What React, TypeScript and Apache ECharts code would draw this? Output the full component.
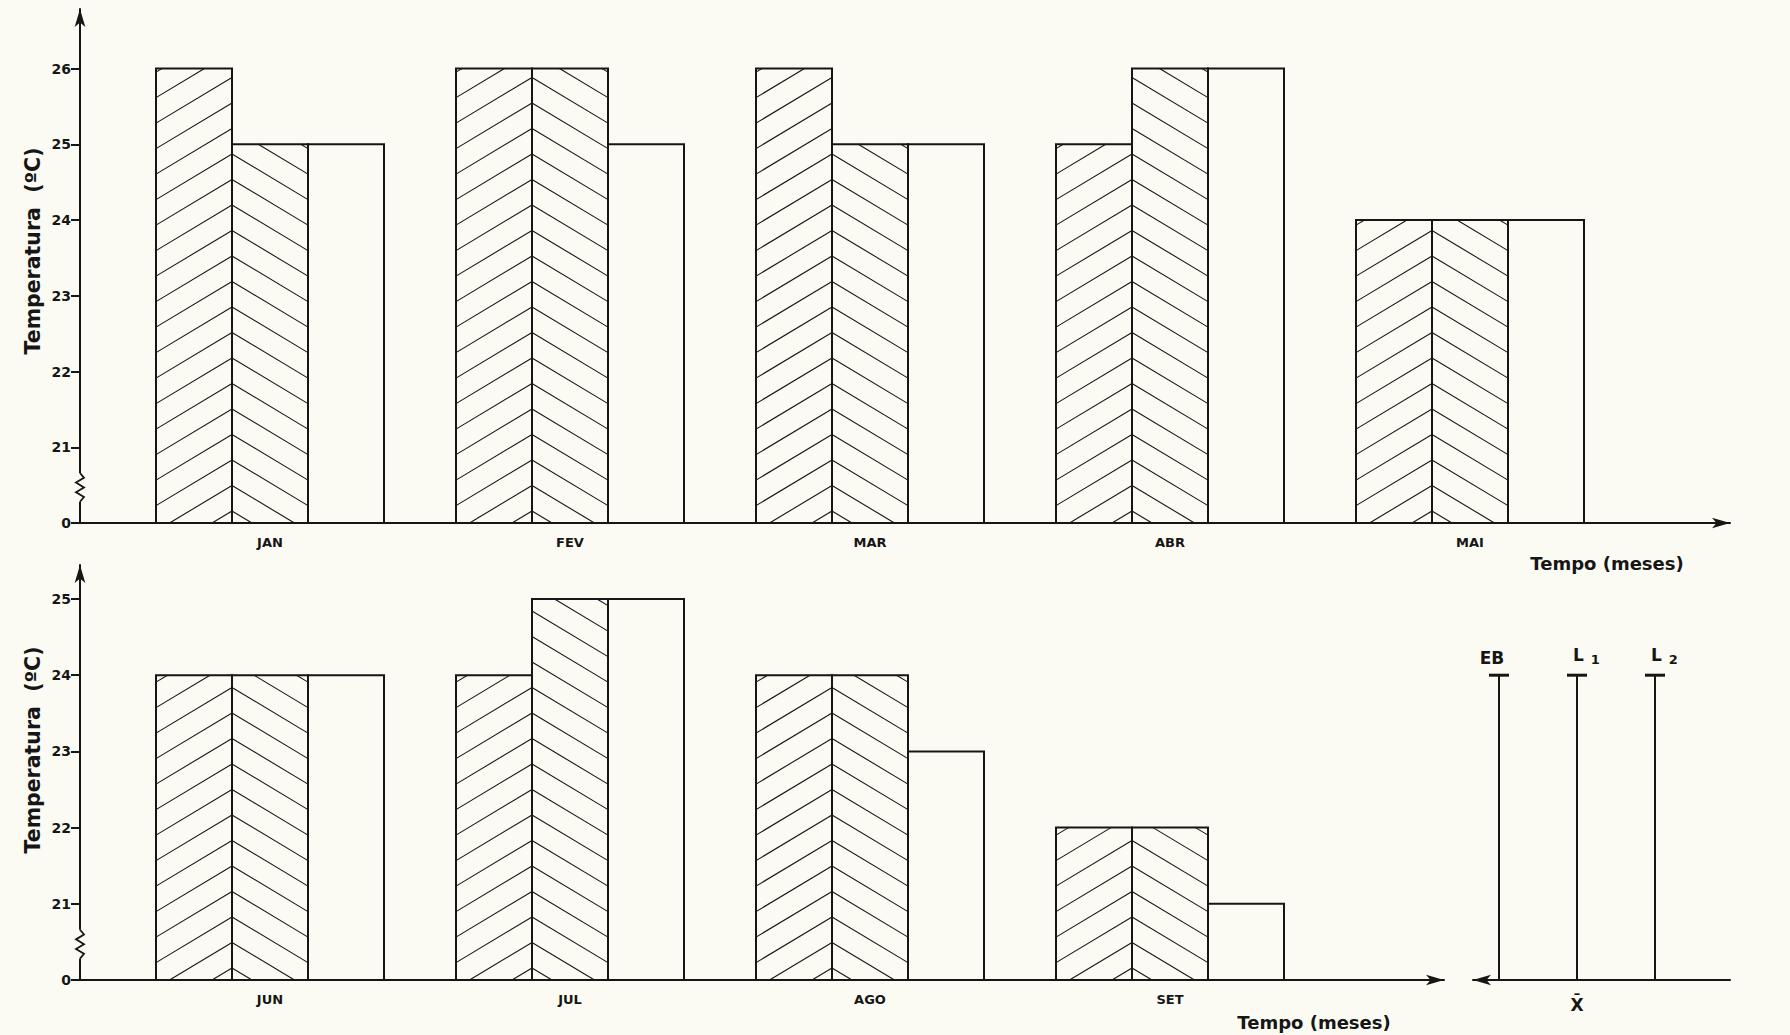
import React, { useEffect, useRef } from 'react';
import * as echarts from 'echarts';

// ---------------- data ----------------
const TOP_MONTHS = ['JAN', 'FEV', 'MAR', 'ABR', 'MAI'];
const TOP_EB = [26, 26, 26, 25, 24];
const TOP_L1 = [25, 26, 25, 26, 24];
const TOP_L2 = [25, 25, 25, 26, 24];

const BOTTOM_MONTHS = ['JUN', 'JUL', 'AGO', 'SET'];
const BOTTOM_EB = [24, 24, 24, 22];
const BOTTOM_L1 = [24, 25, 24, 22];
const BOTTOM_L2 = [24, 25, 23, 21];

const MEAN_NAMES = ['EB', 'L1', 'L2'];
const MEAN_VALUES = [24, 24, 24];

const TOP_Y_LABELS = ['0', '21', '22', '23', '24', '25', '26'];
const BOTTOM_Y_LABELS = ['0', '21', '22', '23', '24', '25'];
const BREAK_BASE = 20; // axis is broken between 0 and 21

// ---------------- style ----------------
const INK = '#161616';
const PAPER = '#fbfbf3';
const FONT = '"DejaVu Sans", "Liberation Sans", sans-serif';
const BAR_FRAC = 76 / 300;
const HATCH_STEP = 25.5;
const HATCH_PHASE = 12;
const HATCH_SLOPE = 0.6;

const toPos = (t: number) => (t === 0 ? 0 : t - BREAK_BASE);

function barRenderer(slot: number, hatch: number) {
  return (_params: any, api: any) => {
    const cat = api.value(0);
    const pos = api.value(1);
    const band = api.size([1, 0])[0];
    const w = band * BAR_FRAC;
    const b = api.coord([cat, 0]);
    const t = api.coord([cat, pos]);
    const x0 = b[0] + (slot - 1.5) * w;
    const x1 = x0 + w;
    const yb = b[1];
    const yt = t[1];
    const children: any[] = [];
    if (hatch !== 0) {
      const ax = hatch < 0 ? x1 : x0;
      const m = hatch < 0 ? -HATCH_SLOPE : HATCH_SLOPE;
      const kMax = Math.ceil((yb - yt + w * HATCH_SLOPE) / HATCH_STEP) + 2;
      for (let k = -1; k <= kMax; k++) {
        const y0 = yb - HATCH_PHASE - k * HATCH_STEP;
        const xa = ax + (yt - y0) / m;
        const xb = ax + (yb - y0) / m;
        const lo = Math.max(x0, Math.min(xa, xb));
        const hi = Math.min(x1, Math.max(xa, xb));
        if (hi - lo < 0.5) continue;
        children.push({
          type: 'line',
          shape: { x1: lo, y1: y0 + m * (lo - ax), x2: hi, y2: y0 + m * (hi - ax) },
          style: { stroke: INK, lineWidth: 1.1 },
        });
      }
    }
    children.push({
      type: 'rect',
      shape: { x: x0, y: yt, width: w, height: yb - yt },
      style: { fill: 'none', stroke: INK, lineWidth: 2 },
    });
    return { type: 'group', children };
  };
}

function meanRenderer(_params: any, api: any) {
  const i = api.value(0);
  const pos = api.value(1);
  const b = api.coord([i, 0]);
  const t = api.coord([i, pos]);
  const name = MEAN_NAMES[i];
  const isSub = /\d$/.test(name);
  const text = isSub ? name.replace(/(\d)$/, '{s|$1}') : name;
  return {
    type: 'group',
    children: [
      { type: 'line', shape: { x1: b[0], y1: b[1], x2: t[0], y2: t[1] }, style: { stroke: INK, lineWidth: 2 } },
      { type: 'line', shape: { x1: t[0] - 10, y1: t[1], x2: t[0] + 10, y2: t[1] }, style: { stroke: INK, lineWidth: 3 } },
      {
        type: 'text',
        x: isSub ? t[0] - 4 : t[0] - 7,
        y: t[1] - 9,
        style: {
          text,
          fill: INK,
          fontSize: 17,
          fontWeight: 'bold',
          fontFamily: FONT,
          align: isSub ? 'left' : 'center',
          verticalAlign: 'bottom',
          rich: {
            s: { fontSize: 13, fontWeight: 'bold', fontFamily: FONT, fill: INK, padding: [9, 0, 0, 7] },
          },
        },
      },
    ],
  };
}

const dataAxisY = (gridIndex: number, labels: string[]) => ({
  type: 'value',
  gridIndex,
  min: 0,
  max: labels.length - 1,
  interval: 1,
  offset: 40,
  axisLine: { show: false },
  axisTick: { show: true, length: 9, lineStyle: { color: INK, width: 2 } },
  axisLabel: {
    margin: 9,
    color: INK,
    fontSize: 14,
    fontWeight: 'bold',
    fontFamily: FONT,
    formatter: (v: number) => labels[v] ?? '',
  },
  splitLine: { show: false },
});

const dataAxisX = (gridIndex: number, cats: string[]) => ({
  type: 'category',
  gridIndex,
  data: cats,
  boundaryGap: true,
  axisLine: { show: false },
  axisTick: { show: false },
  axisLabel: { margin: 13, color: INK, fontSize: 13, fontWeight: 'bold', fontFamily: FONT },
  splitLine: { show: false },
});

const frameAxis = (gridIndex: number, arrowAtStart: boolean, show = true) => ({
  type: 'value',
  gridIndex,
  min: 0,
  max: 1,
  show,
  axisLine: {
    show: true,
    onZero: false,
    symbol: arrowAtStart ? ['arrow', 'none'] : ['none', 'arrow'],
    symbolSize: [8, 18],
    lineStyle: { color: INK, width: 2 },
  },
  axisTick: { show: false },
  axisLabel: { show: false },
  splitLine: { show: false },
});

const barSeries = (axisIndex: number, values: number[], slot: number, hatch: number, name: string) => ({
  type: 'custom',
  name,
  xAxisIndex: axisIndex,
  yAxisIndex: axisIndex,
  renderItem: barRenderer(slot, hatch),
  encode: { x: 0, y: 1 },
  data: values.map((v, i) => [i, toPos(v)]),
});

export default function App() {
  const ref = useRef<HTMLDivElement>(null);
  useEffect(() => {
    if (!ref.current) return;
    const chart = echarts.init(ref.current, undefined, { renderer: 'svg' });
    const option: any = {
      animation: false,
      backgroundColor: PAPER,
      grid: [
        { left: 120, right: 170, top: 68.5, bottom: 512 },
        { left: 80, right: 60, top: 9, bottom: 512 },
        { left: 120, right: 470, top: 599, bottom: 55 },
        { left: 80, right: 346, top: 565, bottom: 55 },
        { left: 1460, right: 96, top: 599, bottom: 55 },
        { left: 1473, right: 60, top: 599, bottom: 55 },
      ],
      xAxis: [
        dataAxisX(0, TOP_MONTHS),
        frameAxis(1, false),
        dataAxisX(2, BOTTOM_MONTHS),
        frameAxis(3, false),
        {
          type: 'category',
          gridIndex: 4,
          data: MEAN_NAMES,
          boundaryGap: true,
          name: 'X\u0304',
          nameLocation: 'middle',
          nameGap: 16,
          nameTextStyle: { color: INK, fontSize: 17, fontWeight: 'bold', fontFamily: FONT },
          axisLine: { show: false },
          axisTick: { show: false },
          axisLabel: { show: false },
          splitLine: { show: false },
        },
        frameAxis(5, true),
      ],
      yAxis: [
        dataAxisY(0, TOP_Y_LABELS),
        frameAxis(1, false),
        dataAxisY(2, BOTTOM_Y_LABELS),
        frameAxis(3, false),
        { type: 'value', gridIndex: 4, min: 0, max: BOTTOM_Y_LABELS.length - 1, show: false },
        frameAxis(5, false, false),
      ],
      series: [
        barSeries(0, TOP_EB, 0, -1, 'EB'),
        barSeries(0, TOP_L1, 1, 1, 'L1'),
        barSeries(0, TOP_L2, 2, 0, 'L2'),
        barSeries(2, BOTTOM_EB, 0, -1, 'EB'),
        barSeries(2, BOTTOM_L1, 1, 1, 'L1'),
        barSeries(2, BOTTOM_L2, 2, 0, 'L2'),
        {
          type: 'custom',
          name: 'X',
          xAxisIndex: 4,
          yAxisIndex: 4,
          renderItem: meanRenderer,
          encode: { x: 0, y: 1 },
          data: MEAN_VALUES.map((v, i) => [i, toPos(v)]),
        },
      ],
    };
    chart.setOption(option);

    const zig = (yAxisIndex: number, frameX: number) => {
      const x = chart.convertToPixel({ xAxisIndex: frameX }, 0) as number;
      const yA = chart.convertToPixel({ yAxisIndex }, 0.28) as number;
      const yB = chart.convertToPixel({ yAxisIndex }, 0.66) as number;
      const n = 6;
      const pts: number[][] = [[x, yA]];
      for (let i = 1; i < n; i++) {
        pts.push([x + (i % 2 ? 4 : -4), yA + ((yB - yA) * i) / n]);
      }
      pts.push([x, yB]);
      return [
        { type: 'rect', z: 100, shape: { x: x - 3, y: yB, width: 6, height: yA - yB }, style: { fill: PAPER } },
        { type: 'polyline', z: 101, shape: { points: pts }, style: { stroke: INK, lineWidth: 1.8, fill: 'none' } },
      ];
    };

    const textEl = (x: number, y: number, text: string, size: number, rot = 0) => ({
      type: 'text',
      x,
      y,
      rotation: rot,
      z: 102,
      style: {
        text,
        fill: INK,
        fontSize: size,
        fontWeight: 'bold',
        fontFamily: FONT,
        align: 'center',
        verticalAlign: 'middle',
        textAlign: 'center',
        textVerticalAlign: 'middle',
      },
    });

    chart.setOption({
      graphic: [
        ...zig(0, 1),
        ...zig(2, 3),
        textEl(33, 251, 'Temperatura  (ºC)', 20.5, Math.PI / 2),
        textEl(33, 750, 'Temperatura  (ºC)', 20.5, Math.PI / 2),
        textEl(1607, 563, 'Tempo (meses)', 18),
        textEl(1314, 1022, 'Tempo (meses)', 18),
      ],
    });

    return () => chart.dispose();
  }, []);
  return <div ref={ref} style={{ position: 'absolute', left: 0, top: 0, width: 1790, height: 1035 }} />;
}
